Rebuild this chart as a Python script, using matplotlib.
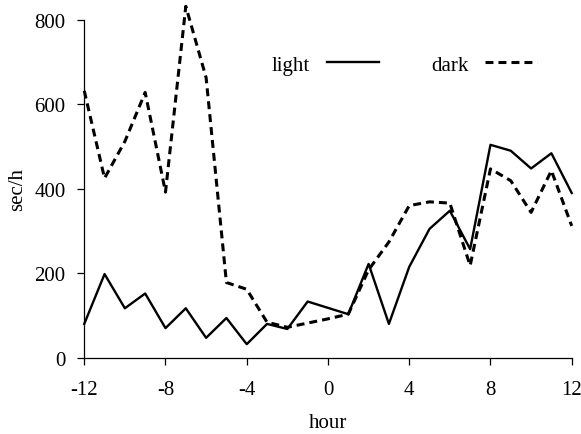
import numpy as np
import matplotlib.pyplot as plt

plt.rcParams['font.family'] = ['Liberation Serif', 'DejaVu Serif']
plt.rcParams['axes.unicode_minus'] = False

# jam relatif (-12 .. 12)
hour = np.arange(-12, 13)

# nilai sec/h
light = [80, 198, 117, 152, 70, 117, 47, 94, 32, 80, 68, 133, 118, 103,
         222, 80, 215, 305, 348, 257, 504, 490, 448, 484, 390]
dark = [632, 425, 512, 628, 392, 832, 663, 178, 162, 84, 72, 82, 92, 103,
        208, 274, 360, 369, 366, 218, 447, 419, 344, 443, 312]

fig = plt.figure(figsize=(5.81, 4.35), dpi=100)
ax = fig.add_axes([0.145, 0.1754, 0.839, 0.7768])

ax.plot(hour, light, color="black", linewidth=1.7, label="light", clip_on=False)
ax.plot(hour, dark, color="black", linewidth=2.2, dashes=(2.6, 1.65),
        label="dark", clip_on=False)

ax.set_xlim(-12, 12)
ax.set_ylim(0, 800)
ax.set_xticks(np.arange(-12, 13, 4))
ax.set_yticks(np.arange(0, 801, 200))

for s in ["top", "right"]:
    ax.spines[s].set_visible(False)
for s in ["left", "bottom"]:
    ax.spines[s].set_linewidth(0.9)

ax.tick_params(direction="out", length=5, width=0.9, labelsize=15)
ax.tick_params(axis="x", pad=11)
ax.tick_params(axis="y", pad=8.5)
ax.set_xlabel("hour", fontsize=15, labelpad=10)
ax.set_ylabel("sec/h", fontsize=15, labelpad=5)

ax.legend(loc="center left", bbox_to_anchor=(0.3845, 0.867), ncol=2,
          frameon=False, markerfirst=False, fontsize=15, handlelength=2.5,
          handletextpad=0.8, columnspacing=2.5, borderpad=0, borderaxespad=0)

plt.savefig("out.png", dpi=100)
